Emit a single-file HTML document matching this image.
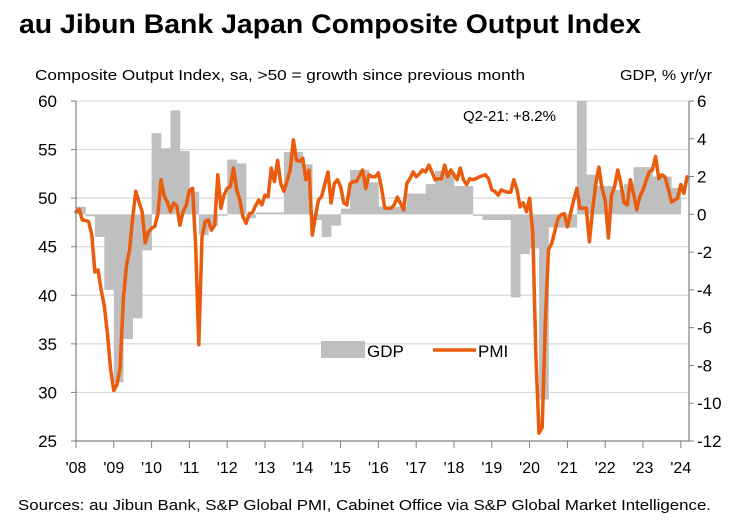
<!DOCTYPE html>
<html><head><meta charset="utf-8"><style>
html,body{margin:0;padding:0;background:#fff;}
svg{display:block;font-family:"Liberation Sans",sans-serif;}
</style></head><body>
<svg id="chart" width="750" height="527" viewBox="0 0 750 527" xmlns="http://www.w3.org/2000/svg">
<text x="19" y="33" font-size="27" font-weight="bold" textLength="622" lengthAdjust="spacingAndGlyphs">au Jibun Bank Japan Composite Output Index</text>
<text x="35" y="80" font-size="15" textLength="490" lengthAdjust="spacingAndGlyphs">Composite Output Index, sa, &gt;50 = growth since previous month</text>
<text x="620" y="80" font-size="15" textLength="92" lengthAdjust="spacingAndGlyphs">GDP, % yr/yr</text>
<g id="grid"></g>
<g id="bars"></g>
<g id="line"></g>
<g id="axes"></g>
<text x="463" y="121" font-size="15">Q2-21: +8.2%</text>
<g>
<rect x="321" y="341" width="44" height="17" fill="#bfbfbf"/>
<text x="367" y="357" font-size="17">GDP</text>
<line x1="433" y1="350" x2="476" y2="350" stroke="#ea5b0c" stroke-width="3.5"/>
<text x="478" y="357" font-size="17">PMI</text>
</g>
<text x="18" y="510" font-size="15" textLength="693" lengthAdjust="spacingAndGlyphs">Sources: au Jibun Bank, S&amp;P Global PMI, Cabinet Office via S&amp;P Global Market Intelligence.</text>
</svg>
<script>
const leftTicks = [25,30,35,40,45,50,55,60];
const rightTicks = [-12,-10,-8,-6,-4,-2,0,2,4,6];
const yearLabels = ["'08","'09","'10","'11","'12","'13","'14","'15","'16","'17","'18","'19","'20","'21","'22","'23","'24"];
const gdp = [0.4,-0.1,-1.2,-4.0,-8.9,-6.6,-5.5,-1.9,4.3,3.5,5.5,3.35,1.2,-1.1,-0.6,0.0,
2.9,2.7,-0.2,0.1,0.1,0.1,3.3,3.3,2.65,-0.3,-1.2,-0.6,0.3,2.35,2.35,1.7,
0.4,0.4,0.4,1.1,1.1,1.6,2.3,2.3,1.5,1.5,0.0,-0.3,-0.3,-0.3,-4.4,-2.1,
-1.8,-9.8,-0.7,-0.7,-0.7,8.2,2.1,1.5,1.5,1.3,1.6,2.5,2.5,2.0,2.0,1.4];
const pmi = [48.6,48.85,47.75,47.7,47.6,46.2,42.4,42.6,40.5,38.9,36,32.3,30.2,30.8,32.5,39.5,43,44.7,48,50.7,
49.6,48.6,45.4,46.5,46.9,47.1,48.4,51.9,50.2,49.6,48.6,49.5,49.2,47.2,48.6,49.3,50.8,51.0,45,34.9,
46,47.6,47.75,46.7,47.2,52.4,48.95,50.3,51.0,51.2,53.1,50.85,49.8,48.1,47.4,48.4,48.5,49.2,49.8,49.3,
50.3,50.15,53.1,51.7,53.9,51.5,50.7,51.8,52.9,56.0,53.9,53.8,54.1,51.9,52.9,46.2,48.1,49.8,50.2,51.5,
52.7,49.5,51.5,51.9,51.2,49.5,49.3,51.5,51.7,51.7,52.3,52.9,51.0,52.4,52.2,52.2,52.6,51,49,48.95,
48.95,49.3,50.1,49.5,48.8,51.5,52,52.7,52.2,52.5,52.9,52.7,53.4,52.7,51.9,52.0,52.0,53.4,52.2,52.9,
52.4,51.9,53.1,51.9,51.4,52.0,51.9,52.0,52.2,52.3,52.4,52.0,50.85,50.7,50.3,50.85,50.7,50.6,50.6,51.9,
50.9,49.1,49.5,48.6,50.0,46.4,33.7,25.8,26.4,37.1,44.7,45.3,46.6,47.9,48.3,48.4,47.05,48.4,49.8,51.0,
48.95,48.95,48.95,45.5,48.8,51.5,53.2,51.0,49.8,45.9,50.3,51.2,52.9,51.5,49.5,49.3,51.9,50.5,48.8,50.15,
50.85,51.8,52.7,52.9,54.3,52.0,52.4,52.2,51.0,49.6,49.8,50.0,51.4,50.5,52.2];

const NS='http://www.w3.org/2000/svg';
const X0=76, X1=689, YT=101, YB=441, MW=3.15;
const yL = v => YT + (60 - v) * (YB - YT) / 35;
const yR = v => YT + (6 - v) * (YB - YT) / 18;
const xM = m => X0 + m * MW;
function mk(tag, attrs, parent){const e=document.createElementNS(NS,tag);for(const k in attrs)e.setAttribute(k,attrs[k]);parent.appendChild(e);return e;}
const grid=document.getElementById('grid'), bars=document.getElementById('bars'), lineG=document.getElementById('line'), axes=document.getElementById('axes');

leftTicks.forEach(t=>{
  if(t>25){const g=mk('line',{x1:X0,x2:X1,y1:yL(t),y2:yL(t),stroke:'#d9d9d9','stroke-width':1.2},grid);
  
  }
  const tk=mk('line',{x1:X0-5,x2:X0,y1:yL(t),y2:yL(t),stroke:'#808080','stroke-width':1},axes);
  
  
  const tx=mk('text',{x:57,y:yL(t)+6,'font-size':17,'text-anchor':'end'},axes);
  tx.textContent=t;
  
  
});
rightTicks.forEach(t=>{
  const tk=mk('line',{x1:X1,x2:X1+5,y1:yR(t),y2:yR(t),stroke:'#808080','stroke-width':1},axes);
  
  
  const tx=mk('text',{x:697,y:yR(t)+6,'font-size':17},axes);
  tx.textContent=t;
  
  
});
yearLabels.forEach((l,i)=>{
  const x=xM(i*12);
  const tk=mk('line',{x1:x,x2:x,y1:YB,y2:YB+7,stroke:'#808080','stroke-width':1},axes);
  
  
  const tx=mk('text',{x:x,y:473,'font-size':16,'text-anchor':'middle'},axes);
  tx.textContent=l;
  
  
});
const ax1=mk('line',{x1:X0,x2:X0,y1:YT,y2:YB,stroke:'#808080','stroke-width':1.2},axes);


const ax2=mk('line',{x1:X1,x2:X1,y1:YT,y2:YB,stroke:'#808080','stroke-width':1.2},axes);


const ax3=mk('line',{x1:X0,x2:X1,y1:YB,y2:YB,stroke:'#808080','stroke-width':1.2},axes);



const y0=yR(0);
gdp.forEach((v,k)=>{
  const yv=Math.max(YT,yR(v));
  const top=Math.min(yv,y0), h=Math.max(Math.abs(yv-y0),1.5);
  const r=mk('rect',{x:xM(k*3),y:top,width:MW*3+0.3,height:h,fill:'#bfbfbf'},bars);
  
  
});
const pts=pmi.map((v,m)=>xM(m).toFixed(1)+','+yL(v).toFixed(1)).join(' ');
const pl=mk('polyline',{points:pts,fill:'none',stroke:'#ea5b0c','stroke-width':3.5,'stroke-linejoin':'round','stroke-linecap':'round'},lineG);


</script>
</body></html>
